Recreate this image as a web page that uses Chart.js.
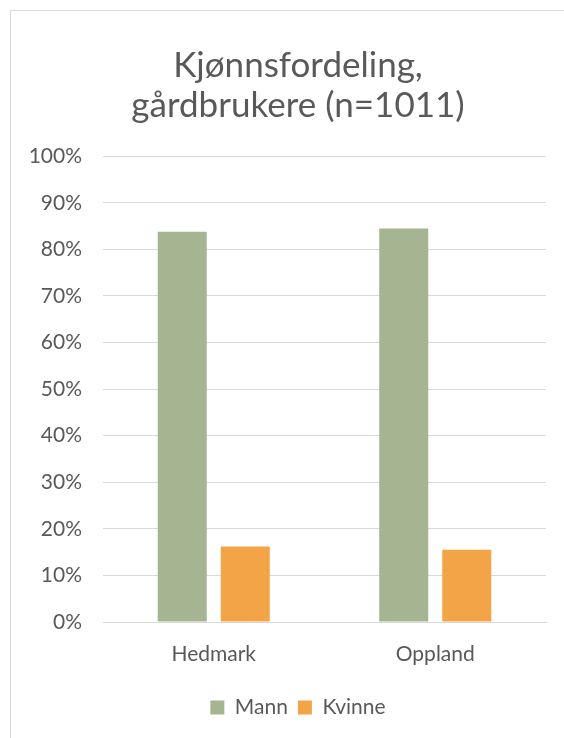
<!DOCTYPE html>
<html>
<head>
<meta charset="utf-8">
<script src="https://cdn.jsdelivr.net/npm/chart.js@4"></script>
<style>
  body { margin: 0; background: #fff; }
  #wrap { position: relative; width: 564px; height: 738px; overflow: hidden; }
  #frame { position: absolute; left: 10px; top: 10px; width: 600px; height: 800px; border: 1px solid #d9d9d9; box-sizing: border-box; }
  canvas { position: absolute; left: 0; top: 0; }
</style>
</head>
<body>
<div id="wrap">
  <div id="frame"></div>
  <canvas id="chart" width="596" height="738"></canvas>
</div>
<script>
const categories = ['Hedmark', 'Oppland'];
const mannValues = [83.8, 84.5];
const kvinneValues = [16.2, 15.5];
const yTicks = [0, 10, 20, 30, 40, 50, 60, 70, 80, 90, 100];

const textColor = '#595959';
const fontFamily = "Lato, 'Open Sans', sans-serif";

const ctx = document.getElementById('chart').getContext('2d');

const chart = new Chart(ctx, {
    type: 'bar',
    data: {
        labels: categories,
        datasets: [{
            label: 'Mann',
            data: mannValues,
            backgroundColor: '#a5b592',
            categoryPercentage: 0.569,
            barPercentage: 0.778
        }, {
            label: 'Kvinne',
            data: kvinneValues,
            backgroundColor: '#f3a447',
            categoryPercentage: 0.569,
            barPercentage: 0.778
        }]
    },
    options: {
        responsive: false,
        animation: false,
        layout: {
            padding: { left: 0, right: 0, top: 45, bottom: 10 }
        },
        plugins: {
            title: {
                display: true,
                text: ['Kjønnsfordeling,', 'gårdbrukere (n=1011)'],
                color: textColor,
                font: { family: fontFamily, size: 35, weight: 'normal', lineHeight: 1.16 },
                padding: { top: 0, bottom: 30 }
            },
            legend: {
                position: 'bottom',
                labels: {
                    color: textColor,
                    font: { family: fontFamily, size: 21 },
                    boxWidth: 14,
                    boxHeight: 14,
                    padding: 10
                }
            },
            tooltip: { enabled: false }
        },
        scales: {
            x: {
                afterFit: (scale) => { scale.height = 65; },
                grid: { display: false, drawTicks: false },
                border: { color: '#d9d9d9' },
                ticks: { color: textColor, font: { family: fontFamily, size: 21 }, padding: 20 }
            },
            y: {
                min: 0,
                max: 100,
                afterFit: (scale) => { scale.width = 103; },
                afterBuildTicks: (scale) => { scale.ticks = yTicks.map(v => ({ value: v })); },
                grid: { color: '#d9d9d9', drawTicks: false },
                border: { display: false },
                ticks: {
                    color: textColor,
                    font: { family: fontFamily, size: 21 },
                    padding: 21,
                    callback: (v) => v + '%'
                }
            },
            // empty spacer on the right so title and legend centre like the original
            spacer: {
                type: 'linear',
                position: 'right',
                afterFit: (scale) => { scale.width = 50; },
                grid: { display: false, drawTicks: false },
                border: { display: false },
                ticks: { display: false }
            }
        }
    }
});
</script>
</body>
</html>
